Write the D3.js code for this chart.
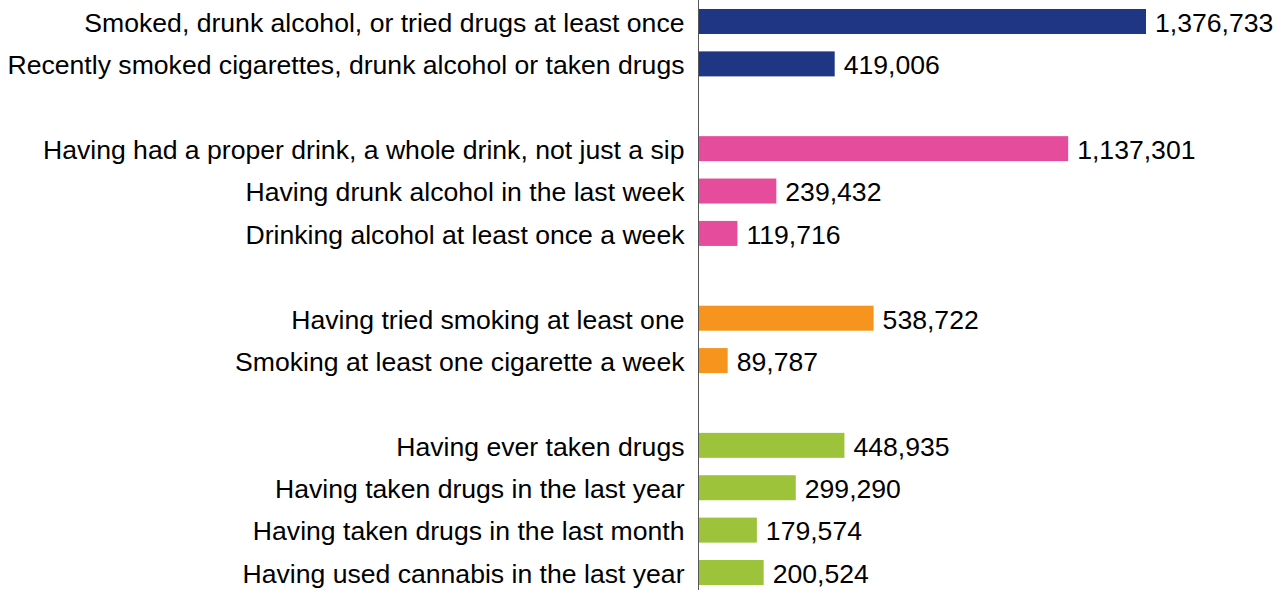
<!DOCTYPE html>
<html>
<head>
<meta charset="utf-8">
<script src="https://cdn.jsdelivr.net/npm/d3@7/dist/d3.min.js"></script>
<style>
  html, body { margin: 0; padding: 0; background: #fff; }
  svg { display: block; }
  text { font-family: "Liberation Sans", Arial, sans-serif; fill: #000; }
</style>
</head>
<body>
<svg id="chart" width="1275" height="590"></svg>
<script>
// Groups of indicators, each drawn in its own colour
const groupNames = ["Any substance", "Alcohol", "Smoking", "Drugs"];
const groupColors = ["#1F3685", "#E54C9C", "#F7941E", "#9DC33A"];

// Indicator labels, the group each belongs to, and the number of young people
const categories = [
  "Smoked, drunk alcohol, or tried drugs at least once",
  "Recently smoked cigarettes, drunk alcohol or taken drugs",
  "Having had a proper drink, a whole drink, not just a sip",
  "Having drunk alcohol in the last week",
  "Drinking alcohol at least once a week",
  "Having tried smoking at least one",
  "Smoking at least one cigarette a week",
  "Having ever taken drugs",
  "Having taken drugs in the last year",
  "Having taken drugs in the last month",
  "Having used cannabis in the last year"
];
const categoryGroup = [0, 0, 1, 1, 1, 2, 2, 3, 3, 3, 3];
const values = [1376733, 419006, 1137301, 239432, 119716, 538722, 89787, 448935, 299290, 179574, 200524];

const rows = categories.map((name, i) => ({
  name,
  value: values[i],
  group: categoryGroup[i],
  slot: i + categoryGroup[i]          // one empty row between groups
}));
const slotCount = d3.max(rows, d => d.slot) + 1;

const svg = d3.select("#chart");
const axisX = 698.5;
const barH = 25;
const fontSize = 26.6;

const x = d3.scaleLinear()
  .domain([0, d3.max(values)])
  .range([axisX, 1146]);

const y = d3.scalePoint()
  .domain(d3.range(slotCount))
  .range([21.5, 572.5]);

const fmt = d3.format(",");

// bars
svg.append("g")
  .selectAll("rect")
  .data(rows)
  .join("rect")
  .attr("x", x(0))
  .attr("y", d => y(d.slot) - barH / 2)
  .attr("width", d => x(d.value) - x(0))
  .attr("height", barH)
  .attr("fill", d => groupColors[d.group]);

// category axis line
svg.append("line")
  .attr("x1", axisX).attr("x2", axisX)
  .attr("y1", 0).attr("y2", 590)
  .attr("stroke", "#555")
  .attr("stroke-width", 1);

// category labels
svg.append("g")
  .selectAll("text")
  .data(rows)
  .join("text")
  .attr("x", axisX - 14)
  .attr("y", d => y(d.slot))
  .attr("dy", "0.39em")
  .attr("text-anchor", "end")
  .style("font-size", fontSize + "px")
  .text(d => d.name);

// value labels
svg.append("g")
  .selectAll("text")
  .data(rows)
  .join("text")
  .attr("x", d => x(d.value) + 9)
  .attr("y", d => y(d.slot))
  .attr("dy", "0.39em")
  .style("font-size", fontSize + "px")
  .text(d => fmt(d.value));
</script>
</body>
</html>
